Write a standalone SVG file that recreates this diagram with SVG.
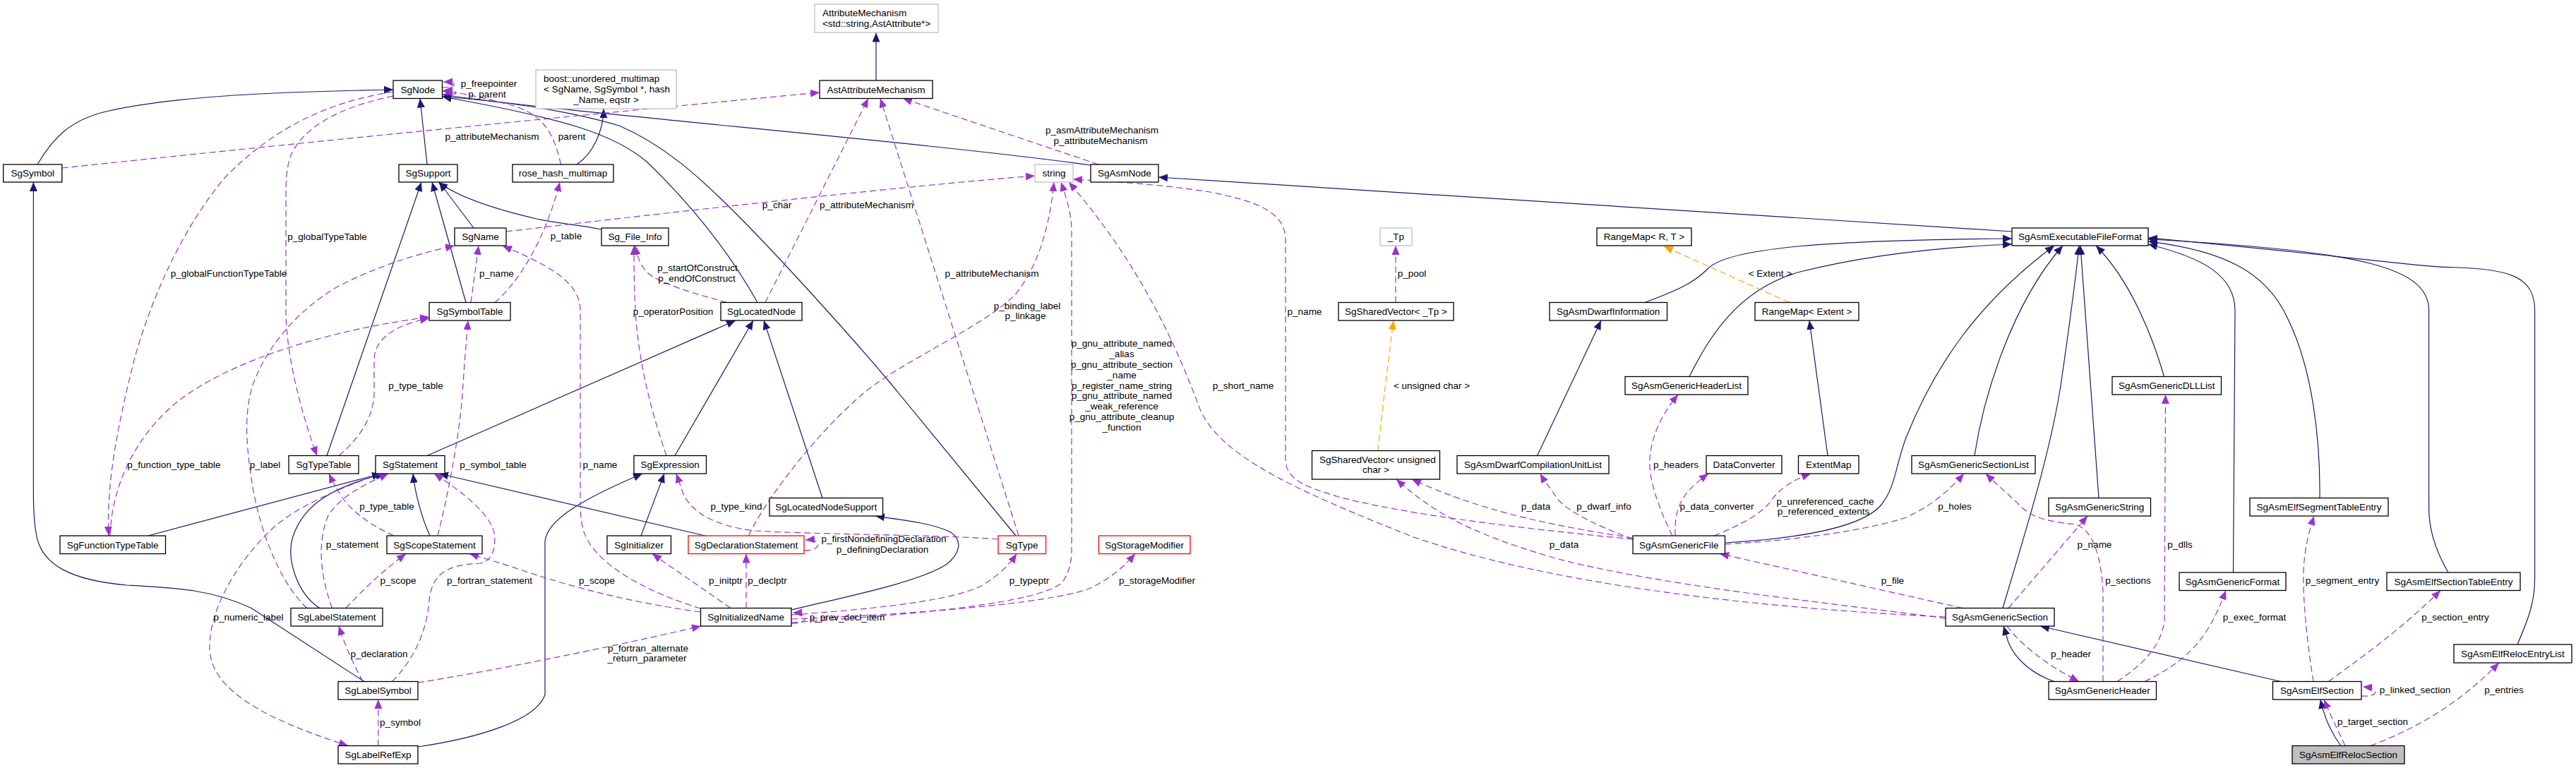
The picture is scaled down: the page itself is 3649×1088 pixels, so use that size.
<svg xmlns="http://www.w3.org/2000/svg" width="3649" height="1088" viewBox="0 0 3649 1088">
<style>
text{font-family:"Liberation Sans",Arial,Helvetica,sans-serif;font-size:13.5px;fill:#000}
.m{text-anchor:middle}
.n rect{fill:#fff;stroke:#000;stroke-width:1.3}
.n.g rect{stroke:#bfbfbf}
.n.r rect{stroke:#ff0000}
.n.f rect{fill:#bfbfbf}
.e path{fill:none;stroke-width:1.2}
.i{stroke:#191970;marker-end:url(#ai)}
.u{stroke:#9a32cd;stroke-dasharray:9,5;marker-end:url(#au)}
.o{stroke:#ffa500;stroke-dasharray:9,5;marker-end:url(#ao)}
</style>
<defs>
<marker id="ai" markerUnits="userSpaceOnUse" markerWidth="14" markerHeight="12" refX="13" refY="5.5" orient="auto"><path d="M0,0 L13,5.5 L0,11 z" fill="#191970"/></marker>
<marker id="au" markerUnits="userSpaceOnUse" markerWidth="14" markerHeight="12" refX="13" refY="5.5" orient="auto"><path d="M0,0 L13,5.5 L0,11 z" fill="#9a32cd"/></marker>
<marker id="ao" markerUnits="userSpaceOnUse" markerWidth="14" markerHeight="12" refX="13" refY="5.5" orient="auto"><path d="M0,0 L13,5.5 L0,11 z" fill="#ffa500"/></marker>
</defs>
<rect width="3649" height="1088" fill="#fff"/>
<g id="connectors" class="e">
<!-- inheritance -->
<path class="i" d="M53,233 C75,195 100,170 150,158 C250,135 400,130 557,127"/>
<path class="i" d="M605,233 L595,139.5"/>
<path class="i" d="M1241,114 L1241,46.5"/>
<path class="i" d="M817,233 C840,218 855,185 855,154"/>
<path class="i" d="M1545,234 C1300,200 800,160 626.5,134"/>
<path class="i" d="M1073,428.5 C1040,370 990,300 916,229 C870,190 800,168 626.5,137"/>
<path class="i" d="M1439,759 L1259,540 C1200,470 1100,360 1040,300 C990,250 940,205 877,178 C800,155 700,142 626.5,137"/>
<path class="i" d="M671,323 L622,258"/>
<path class="i" d="M660,428.5 L612,258"/>
<path class="i" d="M851.5,325 C820,318 790,317 760,310 C700,296 650,280 621,258"/>
<path class="i" d="M463,645.5 L597,258"/>
<path class="i" d="M605,645.5 L1042,454"/>
<path class="i" d="M956,645.5 L1067,454"/>
<path class="i" d="M1165,705.5 L1082,454"/>
<path class="i" d="M209.6,759 L540,671"/>
<path class="i" d="M609,759 C598,735 588,700 585,671"/>
<path class="i" d="M452.7,861.5 C420,840 405,790 415,760 C430,715 470,690 545,671"/>
<path class="i" d="M999,759 L622,671"/>
<path class="i" d="M908,759 L941,671"/>
<path class="i" d="M516,965.5 L356,861.5 C300,835 250,833 180,829 C100,822 60,800 52,760 C48,740 47.4,720 47.4,700 L47.4,258"/>
<path class="i" d="M592,1058 C680,1045 760,1020 772,984 L772,767 C775,735 830,705 910,671"/>
<path class="i" d="M1121,864 C1200,845 1300,825 1340,800 C1360,785 1365,765 1345,753 C1320,742 1290,738 1240,731"/>
<path class="i" d="M2850,328 L1641,251"/>
<path class="i" d="M2330,428.5 C2380,410 2400,400 2420,380 C2450,350 2600,340 2850,338"/>
<path class="i" d="M2393,533.5 C2420,480 2460,410 2550,385 C2650,360 2750,350 2850,346"/>
<path class="i" d="M2589,645.5 L2563,454"/>
<path class="i" d="M2177.6,645.5 L2268,454"/>
<path class="i" d="M2443.5,769 C2560,762 2640,745 2665,715 C2685,690 2685,660 2700,620 C2740,520 2800,430 2910,348"/>
<path class="i" d="M2797,645.5 C2810,560 2850,430 2922,348"/>
<path class="i" d="M2837,861.5 C2870,750 2905,640 2920,540 C2930,470 2940,400 2945,348"/>
<path class="i" d="M2973,705.5 L2947,348"/>
<path class="i" d="M3065.5,533.5 C3050,480 3020,400 2969,348"/>
<path class="i" d="M3163.5,811 L3166,440 C3166,390 3120,365 3043,346"/>
<path class="i" d="M3286,705.5 C3287,620 3275,520 3240,450 C3210,385 3150,355 3043,342"/>
<path class="i" d="M3468,811 C3450,780 3440.6,750 3440.6,720 L3440.6,440 C3440.6,380 3350,355 3043,339"/>
<path class="i" d="M3566,913 C3580,880 3590.6,855 3590.6,820 L3590.6,440 C3590.6,395 3560,381 3480,379 C3420,378 3350,365 3043,337"/>
<path class="i" d="M3231,965.5 L2890,887"/>
<path class="i" d="M2910,965.5 C2880,955 2855,935 2845,910 L2838,887"/>
<path class="i" d="M3316,1056.5 C3300,1035 3292,1015 3287,991"/>
<!-- template -->
<path class="o" d="M2534.5,428.5 L2357,349"/>
<path class="o" d="M1952,638.5 C1958,580 1968,500 1974,454"/>
<!-- usage -->
<path class="u" d="M626.5,124 C645,124 652,116 628,116"/>
<path class="u" d="M626.5,134 C652,136 652,128 628,128"/>
<path class="u" d="M794.5,233 C785,190 770,160 720,148 C690,140 660,132 626.5,129"/>
<path class="u" d="M87.8,238 C400,205 800,165 1161,131"/>
<path class="u" d="M701,428.5 C740,395 775,330 793,258"/>
<path class="u" d="M667,428.5 L678,348"/>
<path class="u" d="M992.5,862 C920,840 840,800 826,750 C822,735 822,720 822,700 L822,440 C822,405 790,380 712,348.5"/>
<path class="u" d="M717,328 C1000,295 1300,262 1466,249"/>
<path class="u" d="M1030,428.5 C960,410 920,395 912,380 C905,370 902,360 900,348"/>
<path class="u" d="M944,645.5 C925,590 905,520 900,440 C898,400 898,370 898,348"/>
<path class="u" d="M1084,428.5 L1230,139.5"/>
<path class="u" d="M1443,759 L1247,139.5"/>
<path class="u" d="M1556,233 L1279,139.5"/>
<path class="u" d="M1060.6,759 C1080,715 1150,620 1220,560 C1270,515 1400,460 1440,415 C1475,370 1488,310 1493,258"/>
<path class="u" d="M1121,882 C1300,870 1470,855 1505,825 C1515,810 1518,795 1518,780 L1518,330 C1518,300 1510,280 1503,258"/>
<path class="u" d="M2313,764 C2150,748 2000,730 1900,705 C1850,690 1821,680 1821,650 L1821,340 C1821,300 1780,285 1714,272 C1650,262 1580,257 1520,254"/>
<path class="u" d="M2756,874 C2500,862 2200,830 2000,760 C1850,700 1730,650 1700,580 C1670,500 1620,380 1514,258"/>
<path class="u" d="M2756,876 C2600,855 2350,830 2200,790 C2100,760 2040,735 1978,679"/>
<path class="u" d="M2313,762 C2200,745 2100,725 2000,679"/>
<path class="u" d="M2313,764 C2250,740 2215,720 2205,705 C2195,690 2188,682 2181.6,671"/>
<path class="u" d="M2369,759 C2350,720 2335,680 2337,650 C2340,610 2360,580 2377,559"/>
<path class="u" d="M2373,759 C2372,720 2380,700 2420,671"/>
<path class="u" d="M2428,759 C2470,742 2500,725 2512,705 C2525,690 2540,680 2565,671"/>
<path class="u" d="M2443.5,771 C2550,765 2650,750 2700,733 C2740,715 2765,690 2782,671"/>
<path class="u" d="M2780,861.5 L2436,784.5"/>
<path class="u" d="M2845,861.5 L2957,731"/>
<path class="u" d="M2843,887 C2860,910 2895,940 2945,965.5"/>
<path class="u" d="M2979,965.5 L2979,840 C2977,790 2965,750 2940,743 C2900,738 2880,735 2860,715 C2845,700 2830,688 2813,671"/>
<path class="u" d="M2999,965.5 C3030,945 3060,920 3066,880 L3067.5,559"/>
<path class="u" d="M3038,965.5 C3080,945 3105,925 3125,895 C3138,875 3146,855 3153,836.5"/>
<path class="u" d="M3277,965.5 C3268,910 3262,850 3263,810 C3264,780 3270,755 3278,731"/>
<path class="u" d="M3298.5,965.5 C3340,935 3400,893 3457,836.5"/>
<path class="u" d="M3345,986 C3370,988 3372,975 3347,973"/>
<path class="u" d="M3322,1056.5 C3312,1035 3302,1015 3292,991"/>
<path class="u" d="M3358,1056.5 C3420,1033 3480,1000 3540,939"/>
<path class="u" d="M557,130 C440,148 370,200 320,250 C260,320 215,420 190,510 C170,590 150,680 154,759"/>
<path class="u" d="M156,759 C158,690 190,620 250,570 C320,515 450,470 608,449"/>
<path class="u" d="M557,136 C480,152 430,180 412,220 C405,240 405,260 405,280 L405,440 C405,500 425,580 449,645.5"/>
<path class="u" d="M480,645.5 C510,620 530,590 530,555 L530,510 C530,480 560,460 608,451"/>
<path class="u" d="M435,861.5 C400,830 370,760 358,690 C348,630 345,580 360,540 C380,490 420,440 480,405 C540,375 590,360 644,348"/>
<path class="u" d="M540,671 C470,695 420,720 390,745 C330,800 295,870 297,920 C300,980 380,1020 493,1056.5"/>
<path class="u" d="M470.5,861.5 C455,820 448,770 465,730 C485,700 520,685 550,671"/>
<path class="u" d="M490,861.5 C510,840 540,810 575,784.5"/>
<path class="u" d="M558,759 C520,742 495,720 485,705 C475,690 470,680 466,671"/>
<path class="u" d="M620,759 C635,700 650,620 655,560 C658,510 661,480 663,454"/>
<path class="u" d="M514,965.5 C500,940 487,910 480,887"/>
<path class="u" d="M535.8,1056.5 L535.8,991"/>
<path class="u" d="M555.5,965.5 C590,930 605,890 608,850 C612,815 630,800 680,798 C698,795 703,775 700,755 C695,730 660,700 615,671"/>
<path class="u" d="M592,967 C700,950 850,920 993,887"/>
<path class="u" d="M992.5,867 C880,852 790,825 740,808 C710,798 690,792 665,784.5"/>
<path class="u" d="M1035,861.5 C990,830 960,810 924,784.5"/>
<path class="u" d="M1057,861.5 L1057,784.5"/>
<path class="u" d="M1414,764 C1350,758 1150,757 1070,752 C1010,745 980,725 968,700 L958,671"/>
<path class="u" d="M1139,780 C1165,780 1165,763 1141,765"/>
<path class="u" d="M1121,883 C1147,884 1147,868 1123,868"/>
<path class="u" d="M1121,871 C1250,862 1350,850 1390,830 C1415,815 1430,800 1440,784.5"/>
<path class="u" d="M1121,877 C1300,870 1480,855 1540,835 C1570,822 1590,805 1608,784.5"/>
<path class="u" d="M1977,428.5 L1977,348"/>
</g>
<g id="edge-labels">
<text class="m" x="692.5" y="123.4">p_freepointer</text>
<text class="m" x="690" y="137.8">p_parent</text>
<text class="m" x="697" y="197.8">p_attributeMechanism</text>
<text class="m" x="810" y="197.8">parent</text>
<text class="m" x="1561" y="189.4">p_asmAttributeMechanism</text>
<text class="m" x="1559" y="204.1">p_attributeMechanism</text>
<text class="m" x="1100.5" y="294.8">p_char</text>
<text class="m" x="1227.5" y="294.8">p_attributeMechanism</text>
<text class="m" x="463.5" y="339.8">p_globalTypeTable</text>
<text class="m" x="802" y="339.4">p_table</text>
<text class="m" x="324" y="391.8">p_globalFunctionTypeTable</text>
<text class="m" x="703.5" y="391.5">p_name</text>
<text class="m" x="988" y="384.4">p_startOfConstruct</text>
<text class="m" x="987" y="399.4">p_endOfConstruct</text>
<text class="m" x="1405" y="391.5">p_attributeMechanism</text>
<text class="m" x="2000" y="391.5">p_pool</text>
<text class="m" x="2507.5" y="391.5">&lt; Extent &gt;</text>
<text class="m" x="953.5" y="445.8">p_operatorPosition</text>
<text class="m" x="1848" y="445.8">p_name</text>
<text class="m" x="1455" y="437.6">p_binding_label</text>
<text class="m" x="1452.5" y="452.3">p_linkage</text>
<text class="m" x="1589" y="491.3">p_gnu_attribute_named</text>
<text class="m" x="1589" y="506.1">_alias</text>
<text class="m" x="1589" y="520.9">p_gnu_attribute_section</text>
<text class="m" x="1589" y="535.7">_name</text>
<text class="m" x="1589" y="550.5">p_register_name_string</text>
<text class="m" x="1589" y="565.3">p_gnu_attribute_named</text>
<text class="m" x="1589" y="580.1">_weak_reference</text>
<text class="m" x="1589" y="594.9">p_gnu_attribute_cleanup</text>
<text class="m" x="1589" y="609.7">_function</text>
<text class="m" x="1761" y="550.5">p_short_name</text>
<text class="m" x="589" y="550.8">p_type_table</text>
<text class="m" x="2028" y="550.5">&lt; unsigned char &gt;</text>
<text class="m" x="246.4" y="662.6">p_function_type_table</text>
<text class="m" x="375.5" y="662.6">p_label</text>
<text class="m" x="698.5" y="662.6">p_symbol_table</text>
<text class="m" x="850" y="662.6">p_name</text>
<text class="m" x="2374" y="662.6">p_headers</text>
<text class="m" x="548" y="722.3">p_type_table</text>
<text class="m" x="1043" y="722.3">p_type_kind</text>
<text class="m" x="2175.5" y="722.3">p_data</text>
<text class="m" x="2272" y="722.3">p_dwarf_info</text>
<text class="m" x="2432" y="722.3">p_data_converter</text>
<text class="m" x="2585.5" y="715.3">p_unreferenced_cache</text>
<text class="m" x="2583" y="729.3">p_referenced_extents</text>
<text class="m" x="2769" y="722.3">p_holes</text>
<text class="m" x="499" y="775.5">p_statement</text>
<text class="m" x="1252" y="767.8">p_firstNondefiningDeclaration</text>
<text class="m" x="1250" y="783.2">p_definingDeclaration</text>
<text class="m" x="2215.5" y="775.5">p_data</text>
<text class="m" x="2967" y="775.5">p_name</text>
<text class="m" x="3088" y="775.5">p_dlls</text>
<text class="m" x="564" y="827.2">p_scope</text>
<text class="m" x="693.5" y="827.2">p_fortran_statement</text>
<text class="m" x="845.5" y="827.2">p_scope</text>
<text class="m" x="1028" y="827.2">p_initptr</text>
<text class="m" x="1087" y="827.2">p_declptr</text>
<text class="m" x="1458" y="827.2">p_typeptr</text>
<text class="m" x="1639" y="827.2">p_storageModifier</text>
<text class="m" x="2681" y="827.2">p_file</text>
<text class="m" x="3014.6" y="827.2">p_sections</text>
<text class="m" x="3318" y="827.2">p_segment_entry</text>
<text class="m" x="352" y="878.6">p_numeric_label</text>
<text class="m" x="1200" y="878.6">p_prev_decl_item</text>
<text class="m" x="3193.5" y="878.6">p_exec_format</text>
<text class="m" x="3478" y="878.6">p_section_entry</text>
<text class="m" x="537" y="930.8">p_declaration</text>
<text class="m" x="918" y="923.3">p_fortran_alternate</text>
<text class="m" x="916.5" y="937.3">_return_parameter</text>
<text class="m" x="2933.5" y="930.8">p_header</text>
<text class="m" x="3421" y="982.4">p_linked_section</text>
<text class="m" x="3547" y="982.4">p_entries</text>
<text class="m" x="567" y="1027.8">p_symbol</text>
<text class="m" x="3361" y="1026.8">p_target_section</text>
</g>
<g id="AttributeMechanism" class="n g"><rect x="1154" y="6" width="175" height="40"/><text x="1165" y="23.4">AttributeMechanism</text><text class="m" x="1241.5" y="37.7">&lt;std::string,AstAttribute*&gt;</text></g>
<g id="SgNode" class="n"><rect x="557" y="114" width="69.5" height="25.5"/><text class="m" x="591.8" y="131.5">SgNode</text></g>
<g id="boost_unordered_multimap" class="n g"><rect x="759" y="99" width="199" height="55"/><text x="770" y="115.5">boost::unordered_multimap</text><text x="770" y="130.5">&lt; SgName, SgSymbol *, hash</text><text class="m" x="858.5" y="145.5">_Name, eqstr &gt;</text></g>
<g id="AstAttributeMechanism" class="n"><rect x="1161" y="114" width="160" height="25.5"/><text class="m" x="1241" y="131.5">AstAttributeMechanism</text></g>
<g id="SgSymbol" class="n"><rect x="4.7" y="233" width="83.1" height="25"/><text class="m" x="46.3" y="250.3">SgSymbol</text></g>
<g id="SgSupport" class="n"><rect x="565" y="233" width="83" height="25"/><text class="m" x="606.5" y="250.3">SgSupport</text></g>
<g id="rose_hash_multimap" class="n"><rect x="726" y="233" width="143" height="25"/><text class="m" x="797.5" y="250.3">rose_hash_multimap</text></g>
<g id="string" class="n g"><rect x="1466" y="233" width="54" height="25"/><text class="m" x="1493" y="250.3">string</text></g>
<g id="SgAsmNode" class="n"><rect x="1545" y="233" width="96" height="25"/><text class="m" x="1593" y="250.3">SgAsmNode</text></g>
<g id="SgName" class="n"><rect x="644" y="323" width="73" height="25"/><text class="m" x="680.5" y="340.3">SgName</text></g>
<g id="Sg_File_Info" class="n"><rect x="852" y="323" width="95" height="25"/><text class="m" x="899.5" y="340.3">Sg_File_Info</text></g>
<g id="_Tp" class="n g"><rect x="1955" y="323" width="45" height="25"/><text class="m" x="1977.5" y="340.3">_Tp</text></g>
<g id="RangeMap_R_T" class="n"><rect x="2262" y="323" width="134" height="25"/><text class="m" x="2329" y="340.3">RangeMap&lt; R, T &gt;</text></g>
<g id="SgAsmExecutableFileFormat" class="n"><rect x="2850" y="323" width="193" height="25"/><text class="m" x="2946.5" y="340.3">SgAsmExecutableFileFormat</text></g>
<g id="SgSymbolTable" class="n"><rect x="608" y="428.5" width="115" height="25.5"/><text class="m" x="665.5" y="446">SgSymbolTable</text></g>
<g id="SgLocatedNode" class="n"><rect x="1021" y="428.5" width="115" height="25.5"/><text class="m" x="1078.5" y="446">SgLocatedNode</text></g>
<g id="SgSharedVector_Tp" class="n"><rect x="1896" y="428.5" width="163" height="25.5"/><text class="m" x="1977.5" y="446">SgSharedVector&lt; _Tp &gt;</text></g>
<g id="SgAsmDwarfInformation" class="n"><rect x="2195" y="428.5" width="166.5" height="25.5"/><text class="m" x="2278.2" y="446">SgAsmDwarfInformation</text></g>
<g id="RangeMap_Extent" class="n"><rect x="2486" y="428.5" width="147" height="25.5"/><text class="m" x="2559.5" y="446">RangeMap&lt; Extent &gt;</text></g>
<g id="SgAsmGenericHeaderList" class="n"><rect x="2302" y="533.5" width="174" height="25.5"/><text class="m" x="2389" y="551">SgAsmGenericHeaderList</text></g>
<g id="SgAsmGenericDLLList" class="n"><rect x="2992" y="533.5" width="154.5" height="25.5"/><text class="m" x="3069.2" y="551">SgAsmGenericDLLList</text></g>
<g id="SgTypeTable" class="n"><rect x="409" y="645.5" width="99" height="25.5"/><text class="m" x="458.5" y="663">SgTypeTable</text></g>
<g id="SgStatement" class="n"><rect x="532" y="645.5" width="98" height="25.5"/><text class="m" x="581" y="663">SgStatement</text></g>
<g id="SgExpression" class="n"><rect x="898" y="645.5" width="102.5" height="25.5"/><text class="m" x="949.2" y="663">SgExpression</text></g>
<g id="SgSharedVector_unsigned_char" class="n"><rect x="1858.5" y="638.5" width="181" height="40.5"/><text x="1869" y="655.5">SgSharedVector&lt; unsigned</text><text class="m" x="1949" y="669.6">char &gt;</text></g>
<g id="SgAsmDwarfCompilationUnitList" class="n"><rect x="2064" y="645.5" width="215" height="25.5"/><text class="m" x="2171.5" y="663">SgAsmDwarfCompilationUnitList</text></g>
<g id="DataConverter" class="n"><rect x="2417" y="645.5" width="107" height="25.5"/><text class="m" x="2470.5" y="663">DataConverter</text></g>
<g id="ExtentMap" class="n"><rect x="2547.5" y="645.5" width="85.5" height="25.5"/><text class="m" x="2590.2" y="663">ExtentMap</text></g>
<g id="SgAsmGenericSectionList" class="n"><rect x="2708" y="645.5" width="175" height="25.5"/><text class="m" x="2795.5" y="663">SgAsmGenericSectionList</text></g>
<g id="SgLocatedNodeSupport" class="n"><rect x="1090" y="705.5" width="160.5" height="25.5"/><text class="m" x="1170.2" y="723">SgLocatedNodeSupport</text></g>
<g id="SgAsmGenericString" class="n"><rect x="2902" y="705.5" width="144.5" height="25.5"/><text class="m" x="2974.2" y="723">SgAsmGenericString</text></g>
<g id="SgAsmElfSegmentTableEntry" class="n"><rect x="3187" y="705.5" width="196" height="25.5"/><text class="m" x="3285" y="723">SgAsmElfSegmentTableEntry</text></g>
<g id="SgFunctionTypeTable" class="n"><rect x="85" y="759" width="149.5" height="25.5"/><text class="m" x="159.7" y="776.5">SgFunctionTypeTable</text></g>
<g id="SgScopeStatement" class="n"><rect x="548" y="759" width="135" height="25.5"/><text class="m" x="615.5" y="776.5">SgScopeStatement</text></g>
<g id="SgInitializer" class="n"><rect x="860" y="759" width="90.5" height="25.5"/><text class="m" x="905.2" y="776.5">SgInitializer</text></g>
<g id="SgDeclarationStatement" class="n r"><rect x="975" y="759" width="164" height="25.5"/><text class="m" x="1057" y="776.5">SgDeclarationStatement</text></g>
<g id="SgType" class="n r"><rect x="1414" y="759" width="67.5" height="25.5"/><text class="m" x="1447.7" y="776.5">SgType</text></g>
<g id="SgStorageModifier" class="n r"><rect x="1556.5" y="759" width="129.5" height="25.5"/><text class="m" x="1621.2" y="776.5">SgStorageModifier</text></g>
<g id="SgAsmGenericFile" class="n"><rect x="2313" y="759" width="130.5" height="25.5"/><text class="m" x="2378.2" y="776.5">SgAsmGenericFile</text></g>
<g id="SgAsmGenericFormat" class="n"><rect x="3087" y="811" width="151" height="25.5"/><text class="m" x="3162.5" y="828.5">SgAsmGenericFormat</text></g>
<g id="SgAsmElfSectionTableEntry" class="n"><rect x="3381" y="811" width="189" height="25.5"/><text class="m" x="3475.5" y="828.5">SgAsmElfSectionTableEntry</text></g>
<g id="SgLabelStatement" class="n"><rect x="412" y="861.5" width="130" height="25.5"/><text class="m" x="477" y="879">SgLabelStatement</text></g>
<g id="SgInitializedName" class="n"><rect x="992.5" y="861.5" width="128.5" height="25.5"/><text class="m" x="1056.7" y="879">SgInitializedName</text></g>
<g id="SgAsmGenericSection" class="n"><rect x="2756" y="861.5" width="154" height="25.5"/><text class="m" x="2833" y="879">SgAsmGenericSection</text></g>
<g id="SgAsmElfRelocEntryList" class="n"><rect x="3476" y="913" width="167" height="26"/><text class="m" x="3559.5" y="930.8">SgAsmElfRelocEntryList</text></g>
<g id="SgLabelSymbol" class="n"><rect x="479" y="965.5" width="113" height="25.5"/><text class="m" x="535.5" y="983">SgLabelSymbol</text></g>
<g id="SgAsmGenericHeader" class="n"><rect x="2902" y="965.5" width="152.5" height="25.5"/><text class="m" x="2978.2" y="983">SgAsmGenericHeader</text></g>
<g id="SgAsmElfSection" class="n"><rect x="3219.5" y="965.5" width="125.5" height="25.5"/><text class="m" x="3282.2" y="983">SgAsmElfSection</text></g>
<g id="SgLabelRefExp" class="n"><rect x="479" y="1056.5" width="113" height="25.5"/><text class="m" x="535.5" y="1074">SgLabelRefExp</text></g>
<g id="SgAsmElfRelocSection" class="n f"><rect x="3247" y="1056.5" width="159" height="25.5"/><text class="m" x="3326.5" y="1074">SgAsmElfRelocSection</text></g>
</svg>
